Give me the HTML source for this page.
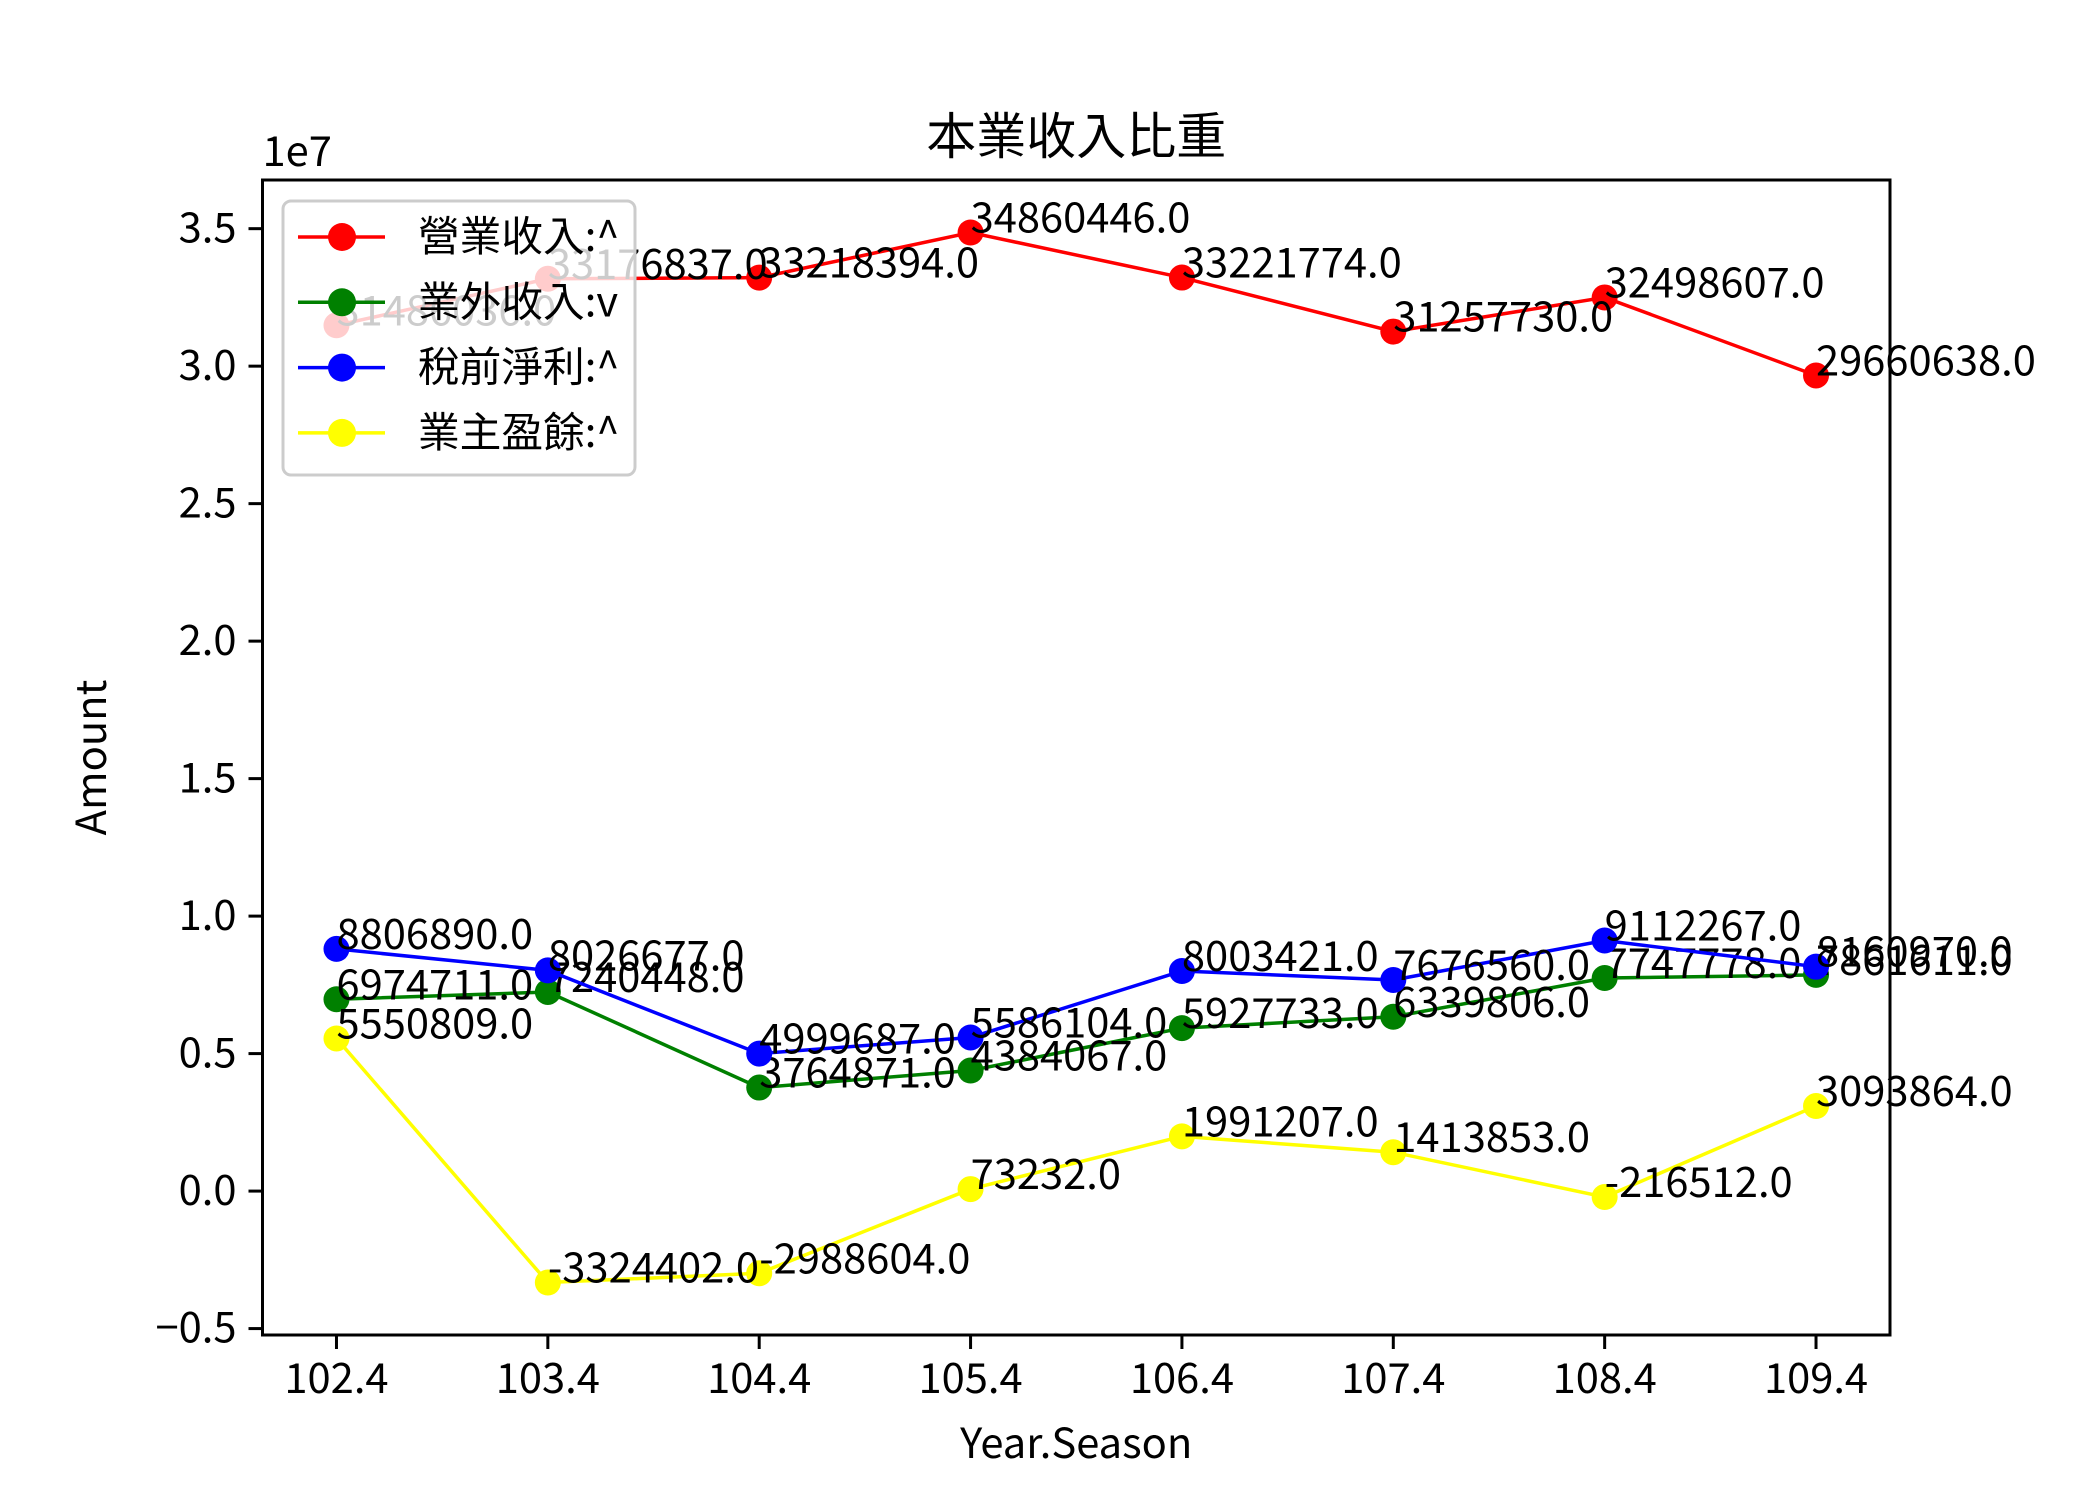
<!DOCTYPE html>
<html><head><meta charset="utf-8"><style>
body{margin:0;background:#fff}
svg text{font-family:"Liberation Sans","Noto Sans CJK TC",sans-serif}
.t{font-family:"Noto Sans CJK TC","Liberation Sans",sans-serif}
</style></head><body>
<svg id="chart" width="2100" height="1500" xmlns="http://www.w3.org/2000/svg"></svg>
<script>
const categories=["102.4","103.4","104.4","105.4","106.4","107.4","108.4","109.4"];
const revenue=[31486036,33176837,33218394,34860446,33221774,31257730,32498607,29660638];
const nonOpIncome=[6974711,7240448,3764871,4384067,5927733,6339806,7747778,7861611];
const preTaxProfit=[8806890,8026677,4999687,5586104,8003421,7676560,9112267,8160970];
const ownerEarnings=[5550809,-3324402,-2988604,73232,1991207,1413853,-216512,3093864];
const yTicks=[-0.5,0,0.5,1,1.5,2,2.5,3,3.5];
const seriesNames=["營業收入:^","業外收入:v","稅前淨利:^","業主盈餘:^"];
const seriesColors=["red","green","blue","yellow"];
const seriesData=[revenue,nonOpIncome,preTaxProfit,ownerEarnings];

const svg=document.getElementById('chart');
const NS="http://www.w3.org/2000/svg";
const L=262.5,R=1890,T=180,B=1335;
const FS=41.7;
const all=seriesData.flat();
const dmin=Math.min(...all),dmax=Math.max(...all),pad=(dmax-dmin)*0.05;
const y0=dmin-pad,y1=dmax+pad;
const n=categories.length;
function xS(i){return L+(i+0.35)/(n-1+0.7)*(R-L);}
function yS(v){return B-(v-y0)/(y1-y0)*(B-T);}
function mk(tag,attrs,parent){const e=document.createElementNS(NS,tag);for(const k in attrs)e.setAttribute(k,attrs[k]);(parent||svg).appendChild(e);return e;}
function txt(s,attrs){const e=mk('text',attrs);e.textContent=s;return e;}

const frame=mk('rect',{x:L,y:T,width:R-L,height:B-T,fill:'#fff'});



seriesData.forEach((d,si)=>{
  const g=mk('g',{});
  
  
  const pts=d.map((v,i)=>xS(i)+','+yS(v)).join(' ');
  const pl=mk('polyline',{points:pts,fill:'none',stroke:seriesColors[si],'stroke-width':3.5},g);
  
  
  d.forEach((v,i)=>{
    const c=mk('circle',{cx:xS(i),cy:yS(v),r:13,fill:seriesColors[si]},g);
    
    
  });
  d.forEach((v,i)=>{
    const t=txt(v.toFixed(1),{x:xS(i),y:yS(v),'font-size':FS,fill:'#000',class:'t'});
    
    
  });
});

const fr=mk('rect',{x:L,y:T,width:R-L,height:B-T,fill:'none',stroke:'#000','stroke-width':3});



categories.forEach((c,i)=>{
  const x=xS(i);
  const tk=mk('line',{x1:x,x2:x,y1:B,y2:B+14,stroke:'#000','stroke-width':3});
  
  
  const t=txt(c,{x:x,y:B+58,'font-size':FS,'text-anchor':'middle',class:'t'});
  
  
});
yTicks.forEach(v=>{
  const y=yS(v*1e7);
  const tk=mk('line',{x1:L-14,x2:L,y1:y,y2:y,stroke:'#000','stroke-width':3});
  
  
  const s=(v<0?'\u2212':'')+Math.abs(v).toFixed(1);
  const t=txt(s,{x:L-26,y:y+14,'font-size':FS,'text-anchor':'end',class:'t'});
  
  
});
const off=txt('1e7',{x:L,y:T-14,'font-size':FS,class:'t'});


const ttl=txt('本業收入比重',{x:(L+R)/2,y:T-26,'font-size':50,'text-anchor':'middle',class:'t'});


const xl=txt('Year.Season',{x:(L+R)/2,y:1482-24,'font-size':FS,'text-anchor':'middle',class:'t'});


const yl=txt('Amount',{x:0,y:0,'font-size':FS,'text-anchor':'middle',class:'t',transform:'translate(106,'+((T+B)/2)+') rotate(-90)'});



const lg=mk('g',{});


mk('rect',{x:283,y:201,width:352,height:274,rx:8,fill:'#fff','fill-opacity':0.8,stroke:'#ccc','stroke-width':3},lg);
seriesNames.forEach((nm,i)=>{
  const y=237+i*65.3;
  const e=mk('g',{},lg);
  
  
  mk('line',{x1:298,x2:385,y1:y,y2:y,stroke:seriesColors[i],'stroke-width':3.5},e);
  mk('circle',{cx:342,cy:y,r:14,fill:seriesColors[i]},e);
  const t=mk('text',{x:418,y:y+14,'font-size':FS,class:'t'},e);
  t.textContent=nm;
});
</script>
</body></html>
